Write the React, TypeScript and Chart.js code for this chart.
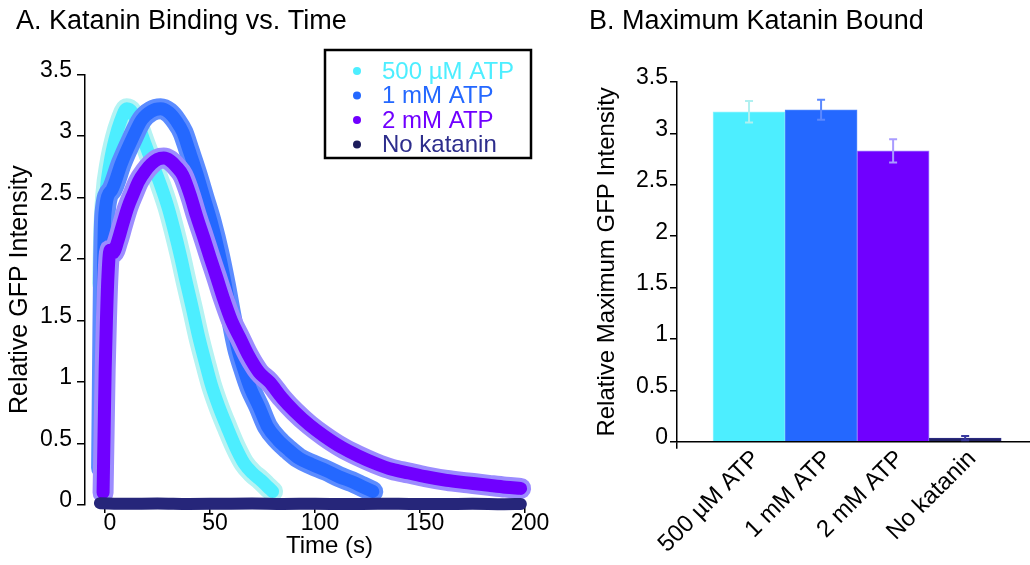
import React, { useEffect, useRef } from 'react';
import { Chart, registerables } from 'chart.js';

Chart.register(...registerables);

const FONT = "'Liberation Sans', Arial, Helvetica, sans-serif";

// ---------- shared series info ----------
const seriesNames = ['500 \u00B5M ATP', '1 mM ATP', '2 mM ATP', 'No katanin'];
const mainColors = ['#4DEEFF', '#2468FF', '#7000FF', '#26267A'];
const haloColors = ['#B4F3F3', '#5C8CFF', '#9C8CFF', '#26267A'];
const legendTextColors = ['#4DEEFF', '#2468FF', '#7000FF', '#2D2D8C'];
const legendDotColors = ['#4DEEFF', '#2468FF', '#7000FF', '#1C1C5C'];

// ---------- A. time courses ----------
const time500 = [-1.1, -0.6, 0.4, 2.4, 4.9, 7.4, 10.4, 13, 16, 19, 22.5, 26.5, 30, 33, 36, 38.6, 41.6, 44.6, 47.6, 50.6, 54.2, 58.2, 62.2, 66.2, 70.2, 74.3, 77.3, 79.8];
const intensity500 = [1.8, 2.2, 2.52, 2.78, 2.98, 3.12, 3.22, 3.19, 3.08, 2.94, 2.78, 2.6, 2.42, 2.23, 2.02, 1.82, 1.6, 1.37, 1.17, 0.98, 0.8, 0.63, 0.47, 0.34, 0.26, 0.2, 0.15, 0.11];

const time1mM = [-1.6, -1.1, -0.6, 0, 3.2, 7.9, 12.8, 17.5, 22, 26.5, 30.5, 34, 37.1, 40.1, 43.6, 47.1, 50.6, 54.2, 57.2, 60.2, 63.2, 66.2, 69.2, 73.3, 77.3, 82.3, 87.3, 92.4, 98.4, 105.4, 111.4, 117.5, 122.5, 127.5];
const intensity1mM = [0.3, 1.2, 2.0, 2.37, 2.56, 2.78, 2.97, 3.13, 3.2, 3.22, 3.19, 3.12, 3.03, 2.88, 2.7, 2.5, 2.3, 2.05, 1.8, 1.52, 1.27, 1.1, 0.95, 0.8, 0.64, 0.53, 0.45, 0.38, 0.33, 0.28, 0.23, 0.19, 0.15, 0.11];

const time2mM = [-0.9, -0.4, 0.1, 0.7, 1.4, 2.4, 3.9, 6.2, 8.4, 10.9, 13.5, 16, 19, 22, 25, 28, 31, 34, 37.1, 40.6, 43.6, 47.1, 50.1, 53.2, 56.2, 60.2, 64.2, 68.2, 73.3, 78.3, 84.3, 90.3, 97.4, 104.4, 112.5, 120.5, 128.5, 136.6, 144.6, 152.6, 162.7, 172.7, 182.8, 190.8, 197.9];
const intensity2mM = [0.1, 0.6, 1.1, 1.5, 1.85, 2.07, 2.05, 2.15, 2.28, 2.42, 2.53, 2.63, 2.71, 2.77, 2.81, 2.82, 2.8, 2.75, 2.68, 2.52, 2.35, 2.17, 2.01, 1.85, 1.69, 1.5, 1.36, 1.22, 1.08, 1.0, 0.87, 0.76, 0.65, 0.56, 0.47, 0.4, 0.34, 0.29, 0.26, 0.23, 0.2, 0.18, 0.16, 0.145, 0.135];

const timeNone = [-2.4, 10, 25, 40, 55, 70, 85, 100, 115, 130, 145, 160, 175, 190, 198];
const intensityNone = [0.015, 0.01, 0.012, 0.008, 0.01, 0.012, 0.009, 0.01, 0.008, 0.01, 0.009, 0.008, 0.01, 0.007, 0.008];

const timeTicks = [0, 50, 100, 150, 200];

// ---------- B. maximum bound ----------
const barLabels = ['500 \u00B5M ATP', '1 mM ATP', '2 mM ATP', 'No katanin'];
const barValues = [3.21, 3.23, 2.83, 0.035];
const barErrors = [0.105, 0.097, 0.113, 0.02];
const barColors = ['#4DEEFF', '#2468FF', '#7000FF', '#222266'];
const barBorderColors = ['#8EF4FF', '#4F86FF', '#9F80FF', '#2E2E88'];
const errorColors = ['#B0F0F0', '#5A88FF', '#A99CFF', '#3A3AA0'];

Chart.defaults.font.family = FONT;
Chart.defaults.color = '#000';

const plainNumber = (v: any) => `${Math.round(Number(v) * 100) / 100}`;

const boxLegend = {
  id: 'boxLegend',
  afterDraw(chart: any, _args: any, opts: any) {
    const ctx = chart.ctx;
    ctx.save();
    ctx.lineWidth = 2.5;
    ctx.strokeStyle = '#000';
    ctx.strokeRect(opts.boxX, opts.boxY, opts.boxW, opts.boxH);
    ctx.font = `${opts.fontSize}px ${FONT}`;
    ctx.textBaseline = 'middle';
    ctx.textAlign = 'left';
    seriesNames.forEach((name, i) => {
      const y = opts.rowStart + i * opts.rowGap;
      ctx.fillStyle = legendDotColors[i];
      ctx.beginPath();
      ctx.arc(opts.dotX, y, opts.dotRadius, 0, Math.PI * 2);
      ctx.fill();
      ctx.fillStyle = legendTextColors[i];
      ctx.fillText(name, opts.textX, y + 1);
    });
    ctx.restore();
  },
};

const errorBars = {
  id: 'errorBars',
  afterDatasetsDraw(chart: any, _args: any, opts: any) {
    const { ctx, scales } = chart;
    const x = scales.x;
    const y = scales.y;
    ctx.save();
    ctx.lineWidth = opts.lineWidth;
    barValues.forEach((v, i) => {
      const px = x.getPixelForValue(i);
      const top = y.getPixelForValue(v + barErrors[i]);
      const bot = y.getPixelForValue(v - barErrors[i]);
      ctx.strokeStyle = errorColors[i];
      ctx.beginPath();
      ctx.moveTo(px, top);
      ctx.lineTo(px, bot);
      ctx.moveTo(px - opts.cap, top);
      ctx.lineTo(px + opts.cap, top);
      ctx.moveTo(px - opts.cap, bot);
      ctx.lineTo(px + opts.cap, bot);
      ctx.stroke();
    });
    ctx.restore();
  },
};

function TimeChart() {
  const ref = useRef<HTMLCanvasElement>(null);
  useEffect(() => {
    const traces: [number[], number[]][] = [
      [time500, intensity500],
      [time1mM, intensity1mM],
      [time2mM, intensity2mM],
      [timeNone, intensityNone],
    ];
    const datasets: any[] = [];
    traces.forEach(([t, v], i) => {
      const data = t.map((x, k) => ({ x, y: v[k] }));
      const common = {
        data,
        showLine: true,
        fill: false,
        pointRadius: 0,
        pointHoverRadius: 0,
        cubicInterpolationMode: 'monotone',
        borderCapStyle: 'round',
        borderJoinStyle: 'round',
        clip: false,
      };
      if (i < 3) {
        datasets.push({
          ...common,
          label: seriesNames[i] + ' (range)',
          borderColor: haloColors[i],
          backgroundColor: haloColors[i],
          borderWidth: 21,
          order: 11 - i * 2,
        });
      }
      datasets.push({
        ...common,
        label: seriesNames[i],
        borderColor: mainColors[i],
        backgroundColor: mainColors[i],
        borderWidth: i === 3 ? 12 : 13,
        order: 10 - i * 2,
      });
    });

    const chart = new Chart(ref.current as HTMLCanvasElement, {
      type: 'scatter',
      data: { datasets },
      plugins: [boxLegend],
      options: {
        animation: false,
        responsive: false,
        maintainAspectRatio: false,
        events: [],
        layout: { padding: { left: 16, right: 6, top: 0, bottom: 0 } },
        plugins: {
          legend: { display: false },
          tooltip: { enabled: false },
          title: {
            display: true,
            text: 'A. Katanin Binding vs. Time',
            align: 'start',
            color: '#000',
            font: { size: 27, weight: 'normal', family: FONT },
            padding: { top: 5, bottom: 37 },
          },
          boxLegend: {
            boxX: 325,
            boxY: 50,
            boxW: 206,
            boxH: 108,
            rowStart: 71,
            rowGap: 24.5,
            dotX: 357,
            dotRadius: 4,
            textX: 382,
            fontSize: 24,
          },
        } as any,
        scales: {
          x: {
            type: 'linear',
            min: -9.5,
            max: 223.3,
            afterBuildTicks: (s: any) => {
              s.ticks = timeTicks.map((value) => ({ value }));
            },
            afterFit: (s: any) => {
              s.height = 60;
            },
            grid: {
              display: true,
              drawOnChartArea: false,
              drawTicks: true,
              tickLength: 8,
              color: '#000',
              lineWidth: 1.5,
            },
            border: { display: false },
            ticks: {
              color: '#000',
              font: { size: 23 },
              padding: -3,
              labelOffset: 5,
              maxRotation: 0,
              autoSkip: false,
              callback: plainNumber,
            },
            title: {
              display: true,
              text: 'Time (s)',
              color: '#000',
              font: { size: 24 },
              padding: { top: 0, bottom: 4 },
            },
          },
          y: {
            type: 'linear',
            min: 0,
            max: 3.5,
            afterFit: (s: any) => {
              s.width = 69;
            },
            ticks: {
              stepSize: 0.5,
              color: '#000',
              font: { size: 23 },
              padding: 5,
              labelOffset: -4,
              callback: plainNumber,
            },
            grid: {
              display: true,
              drawOnChartArea: false,
              tickLength: 8,
              color: '#000',
              lineWidth: 1.5,
            },
            border: { display: true, color: '#000', width: 1.5 },
            title: {
              display: true,
              text: 'Relative GFP Intensity',
              color: '#000',
              font: { size: 25, lineHeight: 1 },
              padding: { top: -8.5, bottom: 0 },
            },
          },
        },
      } as any,
    });
    return () => chart.destroy();
  }, []);
  return (
    <canvas
      ref={ref}
      width={580}
      height={565}
      style={{ position: 'absolute', left: 0, top: 0, width: 580, height: 565 }}
    />
  );
}

function MaxChart() {
  const ref = useRef<HTMLCanvasElement>(null);
  useEffect(() => {
    const chart = new Chart(ref.current as HTMLCanvasElement, {
      type: 'bar',
      data: {
        datasets: [
          {
            label: 'Relative Maximum GFP Intensity',
            data: barValues.map((v, i) => ({ x: i, y: v })),
            backgroundColor: barColors,
            borderColor: barBorderColors,
            borderWidth: 1,
            barPercentage: 1,
            categoryPercentage: 1,
          },
        ],
      },
      plugins: [errorBars],
      options: {
        animation: false,
        responsive: false,
        maintainAspectRatio: false,
        events: [],
        layout: { padding: { left: 14, right: 0, top: 0, bottom: 0 } },
        plugins: {
          legend: { display: false },
          tooltip: { enabled: false },
          title: {
            display: true,
            text: 'B. Maximum Katanin Bound',
            align: 'start',
            color: '#000',
            font: { size: 27, weight: 'normal', family: FONT },
            padding: { top: 5, bottom: 44.6 },
          },
          errorBars: { lineWidth: 2, cap: 4 },
        } as any,
        scales: {
          x: {
            type: 'linear',
            offset: false,
            min: -1,
            max: 3.9,
            afterBuildTicks: (s: any) => {
              s.ticks = [-1, ...barLabels.map((_, i) => i)].map((value) => ({ value }));
            },
            afterFit: (s: any) => {
              s.height = 123.3;
            },
            grid: {
              display: true,
              offset: false,
              drawOnChartArea: false,
              drawTicks: true,
              tickLength: 7,
              lineWidth: 1.5,
              color: (c: any) => (c.tick && c.tick.value === -1 ? '#000' : 'rgba(0,0,0,0)'),
            },
            border: { display: true, color: '#000', width: 1.5 },
            ticks: {
              autoSkip: false,
              minRotation: 45,
              maxRotation: 45,
              color: '#000',
              font: { size: 24 },
              padding: -4,
              labelOffset: 7,
              callback: (v: any) => barLabels[v] ?? '',
            },
          },
          y: {
            type: 'linear',
            min: 0,
            max: 3.5,
            afterFit: (s: any) => {
              s.width = 88;
            },
            ticks: {
              stepSize: 0.5,
              color: '#000',
              font: { size: 23 },
              padding: 2,
              labelOffset: -4,
              callback: plainNumber,
            },
            grid: {
              display: true,
              drawOnChartArea: false,
              tickLength: 7,
              color: '#000',
              lineWidth: 1.5,
            },
            border: { display: true, color: '#000', width: 1.5 },
            title: {
              display: true,
              text: 'Relative Maximum GFP Intensity',
              color: '#000',
              font: { size: 24, lineHeight: 1 },
              padding: { top: 6, bottom: 0 },
            },
          },
        },
      } as any,
    });
    return () => chart.destroy();
  }, []);
  return (
    <canvas
      ref={ref}
      width={455}
      height={565}
      style={{ position: 'absolute', left: 575, top: 0, width: 455, height: 565 }}
    />
  );
}

export default function App() {
  return (
    <div
      style={{
        position: 'absolute',
        left: 0,
        top: 0,
        width: 1030,
        height: 565,
        background: '#fff',
        overflow: 'hidden',
      }}
    >
      <TimeChart />
      <MaxChart />
    </div>
  );
}
